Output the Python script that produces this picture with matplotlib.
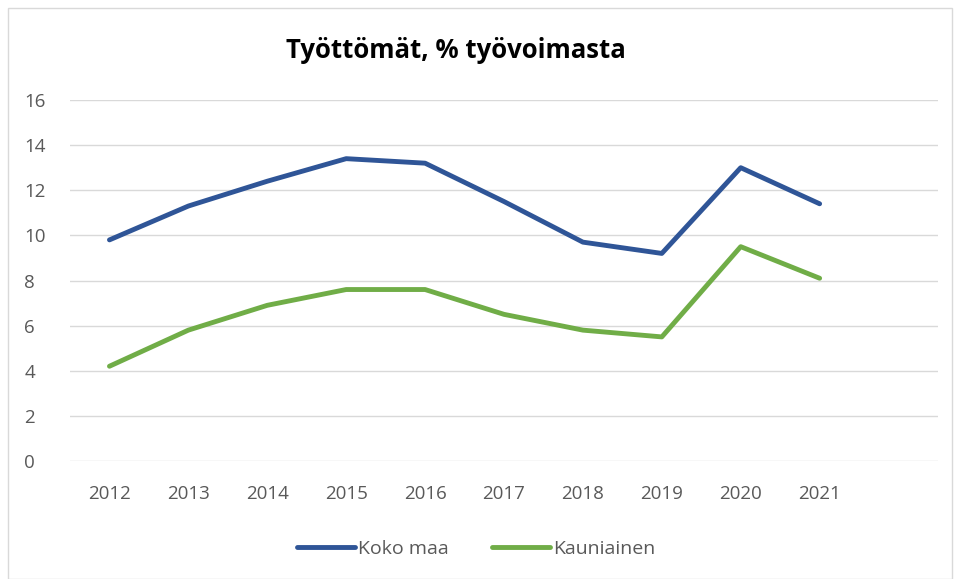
import matplotlib.pyplot as plt
from matplotlib.patches import Rectangle

years = ['2012', '2013', '2014', '2015', '2016', '2017', '2018', '2019', '2020', '2021']
koko_maa = [9.8, 11.3, 12.4, 13.4, 13.2, 11.5, 9.7, 9.2, 13.0, 11.4]
kauniainen = [4.2, 5.8, 6.9, 7.6, 7.6, 6.5, 5.8, 5.5, 9.5, 8.1]

plt.rcParams['font.family'] = ['Open Sans', 'DejaVu Sans']

fig = plt.figure(figsize=(9.6, 5.79), dpi=100)
fig.patches.append(Rectangle((8 / 960, 0.0), 944 / 960, 571 / 579, transform=fig.transFigure,
                             fill=False, edgecolor='#d9d9d9', linewidth=1))
ax = fig.add_axes([70 / 960, 118 / 579, 868 / 960, 361 / 579])

x = list(range(len(years)))
ax.plot(x, koko_maa, color='#2f5597', linewidth=3.5, label='Koko maa', solid_capstyle='round')
ax.plot(x, kauniainen, color='#70ad47', linewidth=3.5, label='Kauniainen', solid_capstyle='round')

ax.set_xlim(-0.5, 10.5)
ax.set_ylim(0, 16)
ax.set_yticks(range(0, 17, 2))
ax.set_xticks(x)
ax.set_xticklabels(years)
ax.grid(axis='y', color='#d9d9d9', linewidth=1)
ax.set_axisbelow(True)
for s in ax.spines.values():
    s.set_visible(False)
ax.tick_params(length=0, labelsize=13.5, labelcolor='#595959')
ax.tick_params(axis='x', pad=17)
ax.tick_params(axis='y', pad=33)
for lab in ax.get_yticklabels():
    lab.set_horizontalalignment('left')

fig.text(456 / 960, 1 - 50 / 579, 'Työttömät, % työvoimasta', ha='center', va='center',
         fontsize=18.5, fontweight='bold', color='black')

leg = fig.legend(loc='center', bbox_to_anchor=(476 / 960, 1 - 549 / 579), ncol=2, frameon=False,
                 fontsize=14, handlelength=3.0, columnspacing=2.2, handletextpad=0.15)
for t in leg.get_texts():
    t.set_color('#595959')

fig.savefig('out.png', dpi=100)
